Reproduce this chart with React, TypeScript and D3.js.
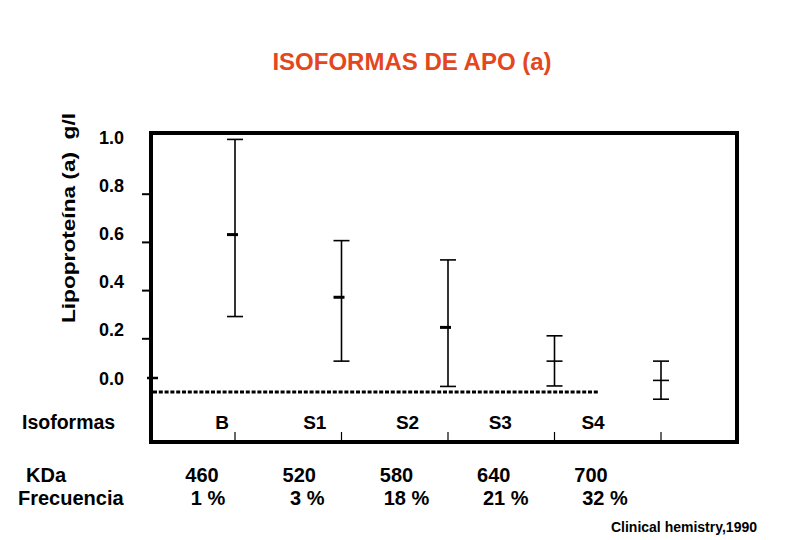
import React from 'react';
import * as d3 from 'd3';

// values
const isoformas = ['B', 'S1', 'S2', 'S3', 'S4'];
const kda = ['460', '520', '580', '640', '700'];
const frecuencia = ['1 %', '3 %', '18 %', '21 %', '32 %'];
const upper = [0.99, 0.57, 0.49, 0.175, 0.07];
const media = [0.595, 0.335, 0.21, 0.07, -0.01];
const lower = [0.255, 0.07, -0.035, -0.033, -0.088];
const yTicks = [0, 0.2, 0.4, 0.6, 0.8, 1.0];
const dashedLevel = -0.058;

const W = 810;
const H = 540;
const frame = { left: 151, right: 737, top: 133, bottom: 442 };
const font = 'Arial, "Liberation Sans", sans-serif';

const App = () => {
    const y = d3.scaleLinear().domain([0, 1]).range([378, 137]);

    const xBar = d3.scalePoint<string>().domain(isoformas).range([235, 661]);
    const xLabel = d3.scalePoint<string>().domain(isoformas).range([222, 593]);
    const xKda = d3.scalePoint<string>().domain(isoformas).range([202, 591]);
    const xFreq = d3.scalePoint<string>().domain(isoformas).range([208, 605]);

    const cap = 8;
    const dashEnd = 598;

    return (
        <svg width={W} height={H} style={{ position: 'absolute', left: 0, top: 0, background: '#fff' }}
            fontFamily={font} fontWeight="bold">
            <text x={412} y={70} textAnchor="middle" fontSize={24} fill="#e4461e">
                ISOFORMAS DE APO (a)
            </text>

            {/* y axis title */}
            <text transform="translate(75, 218) rotate(-90)" textAnchor="middle" fontSize={18.5}
                textLength={210} lengthAdjust="spacingAndGlyphs" style={{ whiteSpace: 'pre' }}>
                {'Lipoproteína (a)  g/l'}
            </text>

            {/* frame */}
            <rect x={frame.left} y={frame.top} width={frame.right - frame.left}
                height={frame.bottom - frame.top} fill="none" stroke="#000" strokeWidth={4} />

            {/* y ticks + labels */}
            {yTicks.map(v => (
                <g key={v}>
                    <text x={124} y={y(v) + 6.5} textAnchor="end" fontSize={18}>{v.toFixed(1)}</text>
                    {v > 0 && v < 1 && (
                        <line x1={142} x2={frame.left} y1={y(v) + 9} y2={y(v) + 9} stroke="#000" strokeWidth={2} />
                    )}
                    {v === 0 && (
                        <line x1={147} x2={158} y1={y(v)} y2={y(v)} stroke="#000" strokeWidth={2.5} />
                    )}
                </g>
            ))}

            {/* dashed level */}
            <line x1={frame.left + 2} x2={dashEnd} y1={y(dashedLevel)} y2={y(dashedLevel)}
                stroke="#000" strokeWidth={3} strokeDasharray="4,1.8" />

            {/* bottom ticks */}
            {isoformas.map(c => (
                <line key={c} x1={xBar(c)} x2={xBar(c)} y1={frame.bottom - 10} y2={frame.bottom}
                    stroke="#000" strokeWidth={1.2} />
            ))}

            {/* error bars */}
            {isoformas.map((c, i) => {
                const x = xBar(c) as number;
                return (
                    <g key={c} stroke="#000">
                        <line x1={x} x2={x} y1={y(upper[i])} y2={y(lower[i])} strokeWidth={1.6} />
                        <line x1={x - cap} x2={x + cap} y1={y(upper[i])} y2={y(upper[i])} strokeWidth={1.6} />
                        <line x1={x - cap} x2={x + cap} y1={y(lower[i])} y2={y(lower[i])} strokeWidth={1.6} />
                        <line x1={x - (i < 3 ? 8 : cap)} x2={x + (i < 3 ? 3 : cap)}
                            y1={y(media[i])} y2={y(media[i])} strokeWidth={i < 3 ? 3 : 1.6} />
                    </g>
                );
            })}

            {/* category rows */}
            <text x={22} y={429} fontSize={19.5}>Isoformas</text>
            {isoformas.map(c => (
                <text key={c} x={xLabel(c)} y={429} textAnchor="middle" fontSize={19}>{c}</text>
            ))}

            <text x={26} y={482} fontSize={20}>KDa</text>
            <text x={18} y={505} fontSize={20}>Frecuencia</text>
            {isoformas.map((c, i) => (
                <g key={c}>
                    <text x={xKda(c)} y={482} textAnchor="middle" fontSize={20}>{kda[i]}</text>
                    <text x={xFreq(c)} y={505} textAnchor="middle" fontSize={20}>{frecuencia[i]}</text>
                </g>
            ))}

            <text x={757} y={532} textAnchor="end" fontSize={14}>Clinical hemistry,1990</text>
        </svg>
    );
};

export default App;
